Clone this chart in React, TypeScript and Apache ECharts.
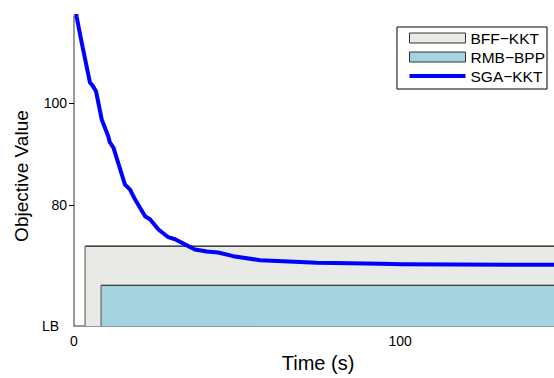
import React, { useEffect, useRef } from "react";
import * as echarts from "echarts";

const sgaTime = [0.5, 0.8, 2.36, 4.9, 5.7, 6.75, 8.5, 10.5, 11.0, 12.1, 15.6, 17.2, 18.7, 21.8, 23.3, 25.9, 28.9, 31.0, 34.0, 37.1, 40.7, 44.2, 48.8, 57.1, 64.1, 74.4, 84.7, 93.9, 100.6, 147.2];
const sgaValue = [118.5, 116.9, 111.8, 104.0, 103.4, 102.3, 96.8, 93.5, 92.3, 91.3, 84.1, 83.1, 81.2, 77.9, 77.3, 75.3, 73.8, 73.4, 72.4, 71.4, 71.0, 70.8, 70.1, 69.3, 69.1, 68.8, 68.7, 68.6, 68.5, 68.4];

const boxNames = ["BFF−KKT", "RMB−BPP"];
const boxStart = [3.4, 8.3];
const boxValue = [72.07, 64.42];
const boxColors = ["#e9e9e5", "#a5d4e0"];

const lowerBound = 56.44;
const yMax = 117.0;
const xMax = 147.2;
const yTicks = [80, 100];
const xTicks = [0, 100];

export default function App() {
  const ref = useRef<HTMLDivElement>(null);
  useEffect(() => {
    if (!ref.current) return;
    const chart = echarts.init(ref.current, undefined, { renderer: "svg" });
    const font = "Liberation Sans";
    const boxSeries = boxNames.map((name, i) => ({
      name,
      type: "custom",
      itemStyle: { color: boxColors[i], borderColor: "#333", borderWidth: 1 },
      data: [[boxStart[i], boxValue[i]]],
      renderItem: (params: any, api: any) => {
        const p0 = api.coord([api.value(0), api.value(1)]);
        const p1 = api.coord([xMax, lowerBound]);
        return {
          type: "group",
          children: [
            {
              type: "rect",
              shape: { x: p0[0], y: p0[1], width: p1[0] - p0[0] + 2, height: p1[1] - p0[1] },
              style: { fill: boxColors[i], stroke: null },
            },
            {
              type: "line",
              shape: { x1: p0[0], y1: p0[1], x2: p1[0] + 2, y2: p0[1] },
              style: { stroke: "#111", lineWidth: 1.2 },
            },
            {
              type: "line",
              shape: { x1: p0[0], y1: p0[1], x2: p0[0], y2: p1[1] },
              style: { stroke: "#666", lineWidth: 1.2 },
            },
          ],
        };
      },
    }));
    chart.setOption({
      animation: false,
      textStyle: { fontFamily: font },
      grid: { left: 74, right: 0, top: 16, bottom: 51, containLabel: false },
      legend: {
        orient: "vertical",
        right: 7,
        top: 27,
        padding: [3, 2, 5, 12],
        itemGap: 3,
        itemWidth: 56,
        itemHeight: 10,
        borderColor: "#000",
        borderWidth: 1,
        textStyle: { fontFamily: font, fontSize: 15.5, color: "#000" },
        data: [
          { name: boxNames[0], icon: "rect", itemStyle: { color: boxColors[0], borderColor: "#333", borderWidth: 1 } },
          { name: boxNames[1], icon: "rect", itemStyle: { color: boxColors[1], borderColor: "#333", borderWidth: 1 } },
          {
            name: "SGA−KKT",
            icon: "path://M0,0L0.01,0M0,3H56V7H0ZM0,10L0.01,10",
            itemStyle: { color: "#0000ff", borderWidth: 0 },
          },
        ],
      },
      xAxis: {
        type: "value",
        min: 0,
        max: xMax,
        name: "Time (s)",
        nameLocation: "middle",
        nameGap: 26,
        nameTextStyle: { fontSize: 20, color: "#000", fontFamily: font, padding: [0, 0, 0, 8] },
        axisLine: { show: true, lineStyle: { color: "#777", width: 1.5 } },
        axisTick: { show: false },
        splitLine: { show: false },
        axisLabel: { customValues: xTicks, fontSize: 14, color: "#000", margin: 8, fontFamily: font },
      },
      yAxis: {
        type: "value",
        min: lowerBound,
        max: yMax,
        name: "Objective Value",
        nameLocation: "middle",
        nameGap: 29,
        nameTextStyle: { fontSize: 19, color: "#000", fontFamily: font, padding: [0, 10, 0, 0] },
        axisLine: { show: true, lineStyle: { color: "#777", width: 1.5 } },
        axisTick: { show: true, customValues: yTicks, length: 5, lineStyle: { color: "#000", width: 1 } },
        splitLine: { show: false },
        axisLabel: {
          customValues: [lowerBound, ...yTicks],
          fontSize: 14,
          color: "#000",
          margin: 7,
          fontFamily: font,
          formatter: (v: number) => (Math.abs(v - lowerBound) < 0.01 ? "{lb|LB}" : String(v)),
          rich: { lb: { fontSize: 14, color: "#000", fontFamily: font, padding: [0, 8, 0, 0] } },
        },
      },
      series: [
        ...boxSeries,
        {
          name: "SGA−KKT",
          type: "line",
          data: sgaTime.map((t, i) => [t, sgaValue[i]]),
          symbol: "none",
          clip: true,
          z: 5,
          lineStyle: { color: "#0000ff", width: 4, join: "round", cap: "round" },
          itemStyle: { color: "#0000ff" },
        },
      ],
    });
    return () => chart.dispose();
  }, []);
  return <div ref={ref} style={{ width: 554, height: 378, position: "absolute", left: 0, top: 0 }} />;
}
